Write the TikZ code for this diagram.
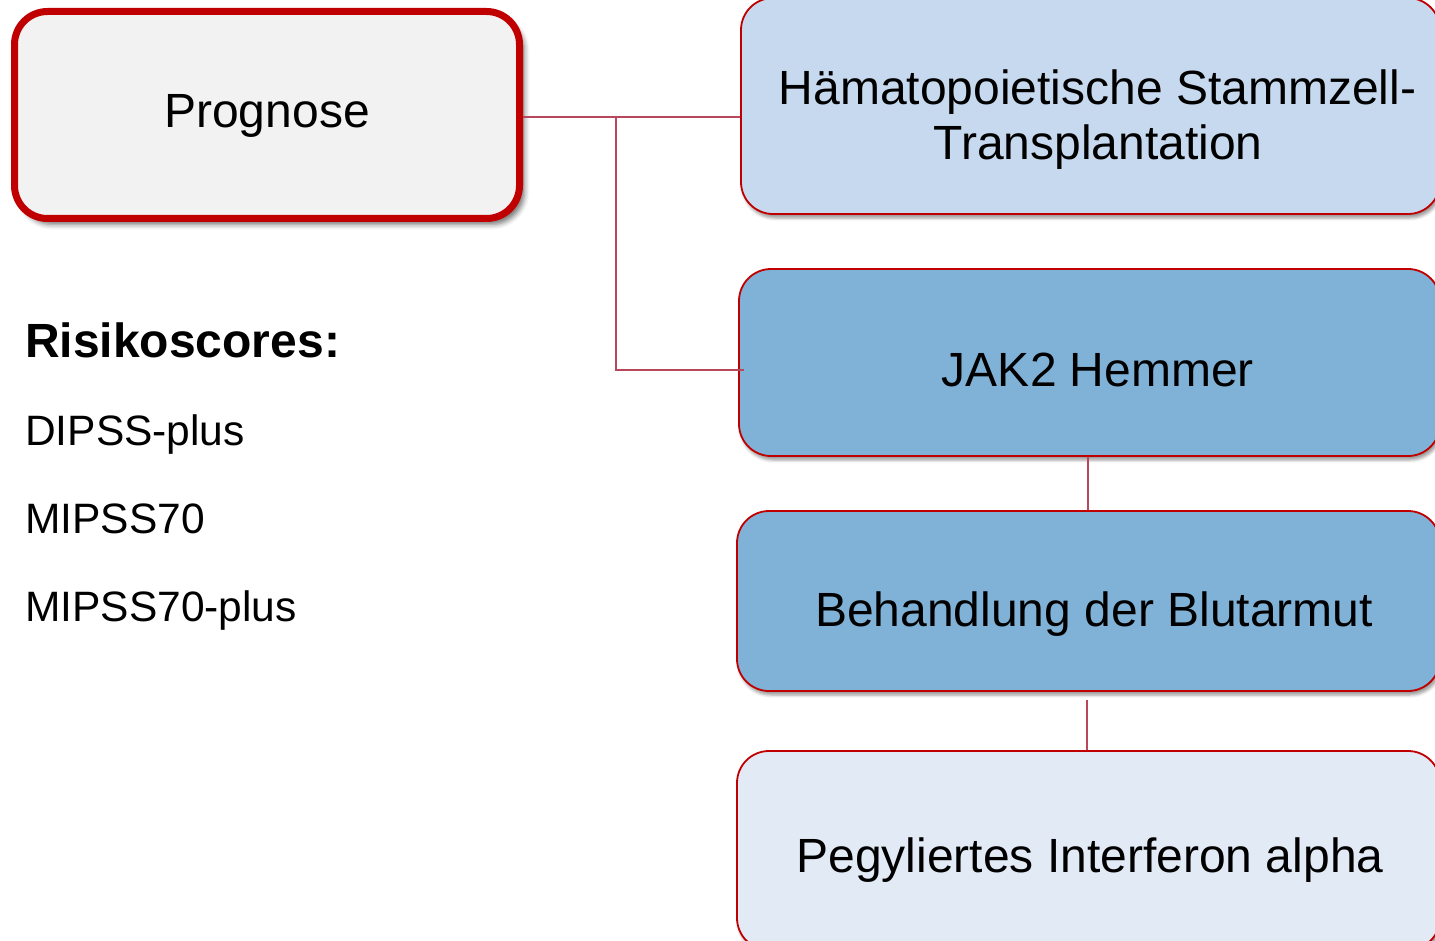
\documentclass[tikz,border=0pt]{standalone}
\usepackage{fontspec}
\setmainfont{Liberation Sans}
\usetikzlibrary{shadows.blur}
\definecolor{bred}{HTML}{C00000}
\definecolor{conncol}{HTML}{B8475C}
\definecolor{progfill}{HTML}{F2F2F2}
\definecolor{lightblue}{HTML}{C6D9EE}
\definecolor{midblue}{HTML}{80B2D7}
\definecolor{paleblue}{HTML}{E2EAF5}
\tikzset{
  progbox/.style={draw=bred, line width=7pt, fill=progfill, rounded corners=33pt,
    inner sep=0pt, blur shadow={shadow xshift=5pt, shadow yshift=-6pt, shadow blur radius=5pt, shadow opacity=55}},
  treatbox/.style={draw=bred, line width=1.8pt, rounded corners=32pt, inner sep=0pt,
    blur shadow={shadow xshift=2pt, shadow yshift=-4pt, shadow blur radius=3pt, shadow opacity=40}},
  bigtext/.style={anchor=base, font=\fontsize{48}{55}\selectfont, inner sep=0pt},
  listtext/.style={anchor=base west, font=\fontsize{42.5}{50}\selectfont, inner sep=0pt},
  conn/.style={draw=conncol, line width=1.5pt}
}
\begin{document}
\begin{tikzpicture}[x=1pt,y=-1pt]
\useasboundingbox (0,0) rectangle (1435,941);
% boxes
\node[progbox, minimum width=505pt, minimum height=207pt] (prog) at (267,115) {};
\node[treatbox, fill=lightblue, minimum width=699pt, minimum height=216pt] (box1) at (1090.5,106) {};
\node[treatbox, fill=midblue, minimum width=701pt, minimum height=187pt] (box2) at (1089.5,362.5) {};
\node[treatbox, fill=midblue, minimum width=703pt, minimum height=180pt] (box3) at (1088.5,601) {};
\node[treatbox, fill=paleblue, minimum width=703pt, minimum height=199pt] (box4) at (1088.5,850.5) {};
% texts
\node[bigtext] (tprog) at (267,128) {Prognose};
\node[bigtext] (t1a) at (1097.5,105) {Hämatopoietische Stammzell-};
\node[bigtext] (t1b) at (1098,160) {Transplantation};
\node[bigtext] (t2) at (1098,386) {JAK2 Hemmer};
\node[bigtext] (t3) at (1094,626) {Behandlung der Blutarmut};
\node[bigtext] (t4) at (1090,872) {Pegyliertes Interferon alpha};
\node[listtext, font=\fontsize{48}{55}\selectfont\bfseries] (risk) at (25,357) {Risikoscores:};
\node[listtext] (l1) at (25,445) {DIPSS-plus};
\node[listtext] (l2) at (25,533) {MIPSS70};
\node[listtext] (l3) at (25,621) {MIPSS70-plus};
% connectors
\coordinate (j) at (616,117);
\coordinate (k) at (744,370);
\draw[conn] (prog.east |- j) -- (box1.west |- j);
\draw[conn] (j) |- (k);
\draw[conn] (box2.south -| 1088,0) -- (box3.north -| 1088,0);
\draw[conn] ([yshift=-8pt]box3.south -| 1087,0) -- (box4.north -| 1087,0);
\end{tikzpicture}
\end{document}
